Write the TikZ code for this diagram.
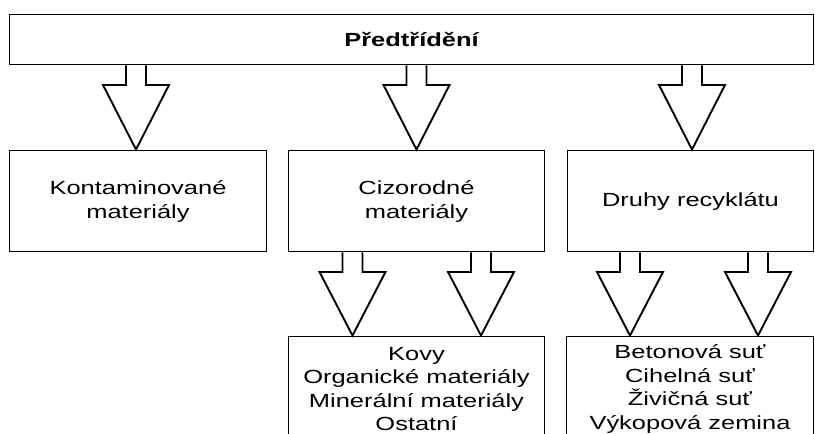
\documentclass[tikz,border=0pt]{standalone}
\usepackage{fontspec}
\setmainfont[FakeStretch=1.34]{Liberation Sans}
\usetikzlibrary{calc}

% hollow block arrow: #1 = x position, #2 = from node, #3 = to node
\newcommand{\blockarrow}[3]{%
  \draw[fatarrow] let \p1 = (#2.south), \p2 = (#3.north) in
    (#1pt-10pt,\y1) -- (#1pt-10pt,\y1-19.5pt) -- (#1pt-33pt,\y1-19.5pt)
    -- (#1pt,\y2) -- (#1pt+33pt,\y1-19.5pt) -- (#1pt+10pt,\y1-19.5pt)
    -- (#1pt+10pt,\y1);}

\begin{document}
\begin{tikzpicture}[x=1pt, y=-1pt,
    fatarrow/.style={draw=black, line width=1.9pt, line join=miter}]
			\clip (0,0) rectangle (815,434);
			\begin{scope}[every node/.style={rectangle, draw, line width=1.9pt, inner sep=0pt, align=center, font=\fontsize{19}{24}\selectfont}]
				\node[minimum width=804pt, minimum height=50pt, font=\fontsize{19}{24}\selectfont\bfseries] (pre) at (411.5,39.5) {Předtřídění};
				\node[minimum width=257pt, minimum height=101pt] (kont) at (138,201) {Kontaminované\\materiály};
				\node[minimum width=256pt, minimum height=101pt] (cizo) at (416.5,201) {Cizorodné\\materiály};
				\node[minimum width=246pt, minimum height=101pt] (druhy) at (690.5,201) {Druhy recyklátu};
				\node[minimum width=256pt, minimum height=105pt, font=\fontsize{19}{23.5}\selectfont] (kovy) at (416.5,389) {Kovy\\Organické materiály\\Minerální materiály\\Ostatní};
				\node[minimum width=247pt, minimum height=105pt, font=\fontsize{19}{23.5}\selectfont] (sut) at (690,389) {Betonová suť\\Cihelná suť\\Živičná suť\\Výkopová zemina};
			\end{scope}
			
			\blockarrow{136}{pre}{kont}
			\blockarrow{416.5}{pre}{cizo}
			\blockarrow{692}{pre}{druhy}
			\blockarrow{352.5}{cizo}{kovy}
			\blockarrow{481}{cizo}{kovy}
			\blockarrow{630}{druhy}{sut}
			\blockarrow{758}{druhy}{sut}
		\end{tikzpicture}
\end{document}
